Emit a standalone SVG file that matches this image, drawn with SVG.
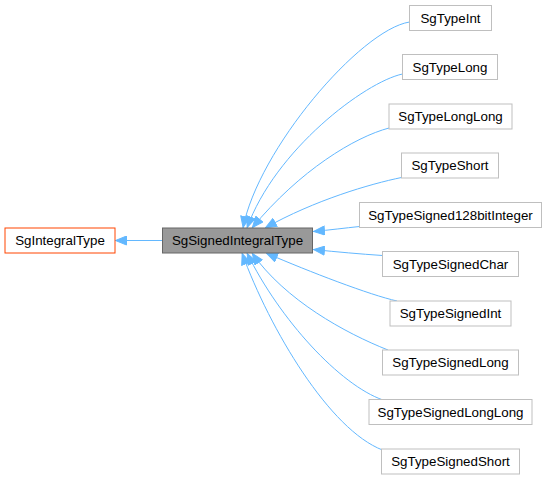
<svg xmlns="http://www.w3.org/2000/svg" width="547" height="480" viewBox="0 0 547 480">
<style>
text{font-family:"Liberation Sans",Arial,Helvetica,sans-serif;font-size:13.33px;fill:#000;text-anchor:middle}
.n rect{fill:#fff;stroke:#bfbfbf;stroke-width:1}
.e path{fill:none;stroke:#63b8ff;stroke-width:1;marker-end:url(#ah)}
</style>
<defs>
<marker id="ah" viewBox="0 0 12 10" refX="12" refY="5" markerWidth="12" markerHeight="10" markerUnits="userSpaceOnUse" orient="auto">
<path d="M0.5,0.5 L11.5,5 L0.5,9.5 Z" fill="#63b8ff" stroke="#63b8ff" stroke-width="1"/>
</marker>
</defs>
<rect width="547" height="480" fill="#fff"/>
<g id="connectors" class="e">
<path d="M162.5,240.5 L115,240.5"/>
<path d="M409.5,22 C360,30 258,150 243,228"/>
<path d="M402.5,74 C365,82 275,150 247,228"/>
<path d="M389,128 C355,137 300,170 252,228"/>
<path d="M401.5,177.5 C370,184 315,200 265,228"/>
<path d="M359.5,226.5 C345,228 330,230 313,231.5"/>
<path d="M382.5,255.5 C360,254 338,252 313,249.5"/>
<path d="M397,301 C370,295 310,272 266,253"/>
<path d="M388,350 C345,333 285,300 252,253"/>
<path d="M383,400 C340,385 280,320 247,253"/>
<path d="M382.5,450 C330,430 270,330 242,253"/>
</g>
<g id="SgIntegralType">
<rect x="5" y="228" width="110" height="25" fill="#fff" stroke="#ff4500"/>
<text x="60" y="245">SgIntegralType</text>
</g>
<g id="SgSignedIntegralType">
<rect x="162.5" y="228" width="150" height="25" fill="#999999" stroke="#666666"/>
<text x="237.5" y="245">SgSignedIntegralType</text>
</g>
<g id="SgTypeInt" class="n">
<rect x="409.5" y="5.5" width="82" height="25"/>
<text x="450.5" y="22.5">SgTypeInt</text>
</g>
<g id="SgTypeLong" class="n">
<rect x="402.5" y="54.5" width="95" height="25"/>
<text x="450" y="71.5">SgTypeLong</text>
</g>
<g id="SgTypeLongLong" class="n">
<rect x="389" y="104" width="123" height="25"/>
<text x="450.5" y="121">SgTypeLongLong</text>
</g>
<g id="SgTypeShort" class="n">
<rect x="401.5" y="153" width="97" height="25"/>
<text x="450" y="170">SgTypeShort</text>
</g>
<g id="SgTypeSigned128bitInteger" class="n">
<rect x="359.5" y="202.5" width="182" height="25"/>
<text x="450.5" y="219.5">SgTypeSigned128bitInteger</text>
</g>
<g id="SgTypeSignedChar" class="n">
<rect x="382.5" y="251.5" width="136" height="25"/>
<text x="450.5" y="268.5">SgTypeSignedChar</text>
</g>
<g id="SgTypeSignedInt" class="n">
<rect x="390" y="301" width="121" height="25"/>
<text x="450.5" y="318">SgTypeSignedInt</text>
</g>
<g id="SgTypeSignedLong" class="n">
<rect x="382.5" y="350" width="136" height="25"/>
<text x="450.5" y="367">SgTypeSignedLong</text>
</g>
<g id="SgTypeSignedLongLong" class="n">
<rect x="369" y="399.5" width="163" height="25"/>
<text x="450.5" y="416.5">SgTypeSignedLongLong</text>
</g>
<g id="SgTypeSignedShort" class="n">
<rect x="381.5" y="449" width="138" height="25"/>
<text x="450.5" y="466">SgTypeSignedShort</text>
</g>
</svg>
